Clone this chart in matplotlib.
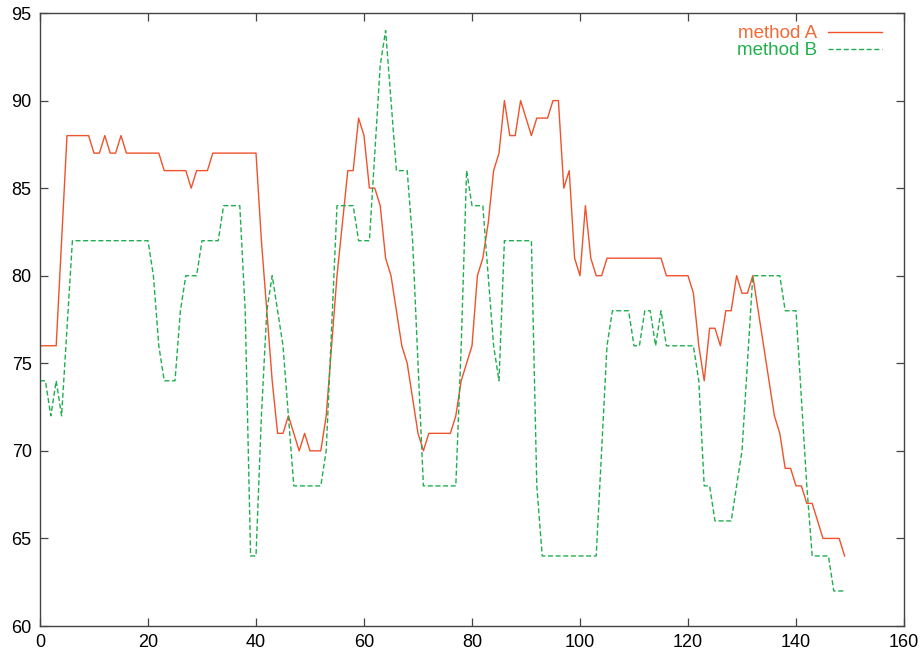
import matplotlib
matplotlib.use("Agg")
import matplotlib.pyplot as plt

plt.rcParams["font.family"] = ["Liberation Sans", "DejaVu Sans"]

# values, one per x = 0..149
method_a = [76, 76, 76, 76, 82, 88, 88, 88, 88, 88,
            87, 87, 88, 87, 87, 88, 87, 87, 87, 87,
            87, 87, 87, 86, 86, 86, 86, 86, 85, 86,
            86, 86, 87, 87, 87, 87, 87, 87, 87, 87,
            87, 82, 78, 74, 71, 71, 72, 71, 70, 71,
            70, 70, 70, 72, 76, 80, 83, 86, 86, 89,
            88, 85, 85, 84, 81, 80, 78, 76, 75, 73,
            71, 70, 71, 71, 71, 71, 71, 72, 74, 75,
            76, 80, 81, 83, 86, 87, 90, 88, 88, 90,
            89, 88, 89, 89, 89, 90, 90, 85, 86, 81,
            80, 84, 81, 80, 80, 81, 81, 81, 81, 81,
            81, 81, 81, 81, 81, 81, 80, 80, 80, 80,
            80, 79, 76, 74, 77, 77, 76, 78, 78, 80,
            79, 79, 80, 78, 76, 74, 72, 71, 69, 69,
            68, 68, 67, 67, 66, 65, 65, 65, 65, 64]

method_b = [74, 74, 72, 74, 72, 77, 82, 82, 82, 82,
            82, 82, 82, 82, 82, 82, 82, 82, 82, 82,
            82, 80, 76, 74, 74, 74, 78, 80, 80, 80,
            82, 82, 82, 82, 84, 84, 84, 84, 78, 64,
            64, 72, 78, 80, 78, 76, 72, 68, 68, 68,
            68, 68, 68, 70, 77, 84, 84, 84, 84, 82,
            82, 82, 87, 92, 94, 90, 86, 86, 86, 82,
            75, 68, 68, 68, 68, 68, 68, 68, 76, 86,
            84, 84, 84, 80, 76, 74, 82, 82, 82, 82,
            82, 82, 68, 64, 64, 64, 64, 64, 64, 64,
            64, 64, 64, 64, 70, 76, 78, 78, 78, 78,
            76, 76, 78, 78, 76, 78, 76, 76, 76, 76,
            76, 76, 74, 68, 68, 66, 66, 66, 66, 68,
            70, 75, 80, 80, 80, 80, 80, 80, 78, 78,
            78, 73, 68, 64, 64, 64, 64, 62, 62, 62]

x = list(range(len(method_a)))

fig = plt.figure(figsize=(9.24, 6.56), dpi=100)
ax = fig.add_axes([40 / 924, 30 / 656, 864 / 924, 613 / 656])

ax.plot(x, method_a, color="#f0522c", lw=1.0, label="method A")
ax.plot(x, method_b, color="#1fae4f", lw=1.0, dashes=(3.6, 1.9), label="method B")

ax.set_xlim(0, 160)
ax.set_ylim(60, 95)
ax.set_xticks(range(0, 161, 20))
ax.set_yticks(range(60, 96, 5))
ax.tick_params(direction="in", length=6, width=0.9, color="#444444",
               top=True, right=True, labelsize=13, pad=6)
for s in ax.spines.values():
    s.set_color("#444444")
    s.set_linewidth(1.0)

leg = ax.legend(loc="upper right", frameon=False, markerfirst=False,
                fontsize=13.5, handlelength=2.85, handletextpad=0.6,
                labelspacing=0.0, borderaxespad=0.0, borderpad=0.0,
                bbox_to_anchor=(0.974, 1 - 12 / 613))
leg.get_texts()[0].set_color("#f26a36")
leg.get_texts()[1].set_color("#22b14c")

fig.savefig("out.png", dpi=100)
